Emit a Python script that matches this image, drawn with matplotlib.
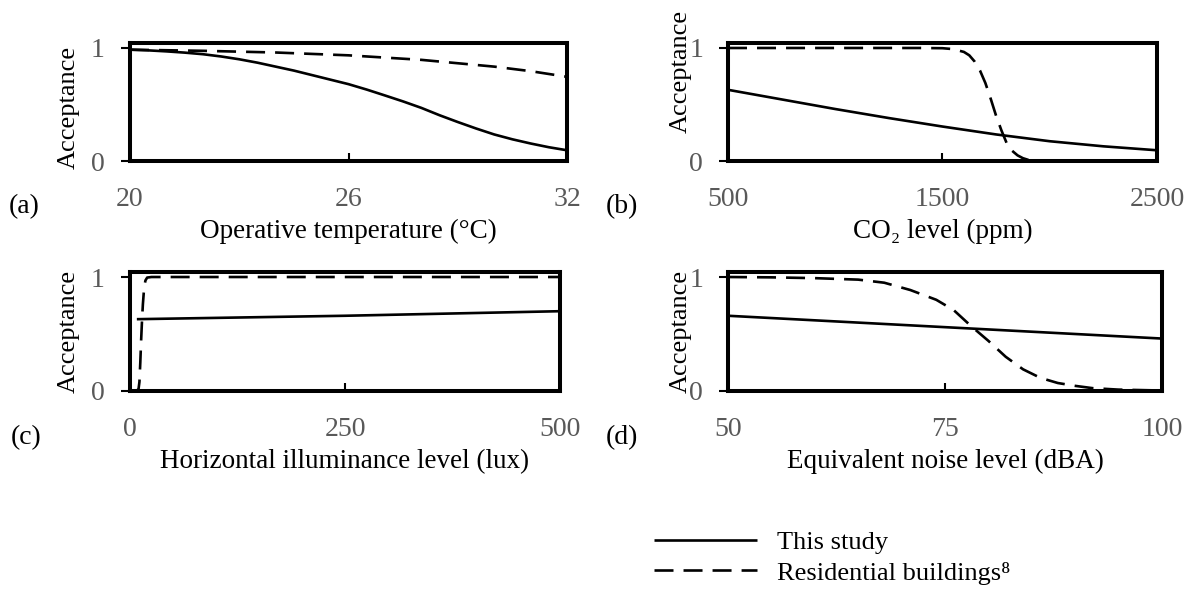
import matplotlib
matplotlib.use('Agg')
import matplotlib.pyplot as plt

plt.rcParams['font.family'] = ['Liberation Serif', 'DejaVu Serif']

# (a) Operative temperature
temp_x = [20, 20.5, 21, 21.5, 22, 22.5, 23, 23.5, 24, 24.5, 25, 25.5, 26, 26.5, 27, 27.5,
          28, 28.5, 29, 29.5, 30, 30.5, 31, 31.5, 32]
temp_this = [0.985, 0.979, 0.97, 0.959, 0.945, 0.925, 0.90, 0.87, 0.835, 0.80, 0.76, 0.72,
             0.68, 0.632, 0.58, 0.527, 0.47, 0.405, 0.345, 0.288, 0.235, 0.192, 0.155, 0.122,
             0.095]
temp_res_x = [20, 22, 24, 26, 28, 30, 31, 32]
temp_res = [0.985, 0.975, 0.96, 0.935, 0.895, 0.835, 0.795, 0.745]

# (b) CO2 level
co2_x = [500, 750, 1000, 1250, 1500, 1750, 2000, 2250, 2500]
co2_this = [0.63, 0.545, 0.46, 0.38, 0.305, 0.235, 0.175, 0.13, 0.095]
co2_res_x = [500, 1000, 1400, 1500, 1550, 1600, 1625, 1650, 1675, 1700, 1725, 1750, 1775,
             1800, 1825, 1850, 1875, 1900, 1950, 2500]
co2_res = [1.0, 1.0, 1.0, 0.998, 0.99, 0.965, 0.935, 0.88, 0.80, 0.69, 0.55, 0.40, 0.27,
           0.155, 0.09, 0.05, 0.025, 0.01, 0.0, 0.0]

# (c) Horizontal illuminance
lux_x = [8, 250, 500]
lux_this = [0.63, 0.66, 0.70]
lux_res_x = [0, 8, 10, 11, 12, 13, 14, 15, 16, 17, 18, 20, 25, 500]
lux_res = [0.0, 0.0, 0.02, 0.08, 0.25, 0.45, 0.62, 0.76, 0.86, 0.93, 0.97, 0.995, 1.0, 1.0]

# (d) Equivalent noise level
noise_x = [50, 75, 100]
noise_this = [0.66, 0.56, 0.46]
noise_res_x = [50, 55, 60, 65, 68, 71, 74, 76, 78, 80, 82, 84, 86, 88, 90, 92, 95, 100]
noise_res = [1.0, 0.997, 0.99, 0.977, 0.95, 0.886, 0.80, 0.71, 0.57, 0.44, 0.30, 0.19,
             0.115, 0.07, 0.045, 0.025, 0.012, 0.004]

panels = [
    dict(rect=[0.1095, 0.7271, 0.3682, 0.2], xs=temp_x, ys=temp_this, xr=temp_res_x, yr=temp_res,
         xlim=(20, 32), xticks=[20, 26, 32], xlabel='Operative temperature (°C)',
         ylab=(-0.114, 0.453), letter='(a)', lpos=(24, 207)),
    dict(rect=[0.6133, 0.7271, 0.3614, 0.2], xs=co2_x, ys=co2_this, xr=co2_res_x, yr=co2_res,
         xlim=(500, 2500), xticks=[500, 1500, 2500], xlabel='CO₂ level (ppm)',
         ylab=(-0.084, 0.763), letter='(b)', lpos=(622, 207)),
    dict(rect=[0.1095, 0.3373, 0.3623, 0.2017], xs=lux_x, ys=lux_this, xr=lux_res_x, yr=lux_res,
         xlim=(0, 500), xticks=[0, 250, 500], xlabel='Horizontal illuminance level (lux)',
         ylab=(-0.116, 0.5), letter='(c)', lpos=(26, 438)),
    dict(rect=[0.6133, 0.3373, 0.3656, 0.2017], xs=noise_x, ys=noise_this, xr=noise_res_x, yr=noise_res,
         xlim=(50, 100), xticks=[50, 75, 100], xlabel='Equivalent noise level (dBA)',
         ylab=(-0.083, 0.5), letter='(d)', lpos=(622, 438)),
]

W, H = 1187, 590
fig = plt.figure(figsize=(W / 100, H / 100), dpi=100)

dash = (0, (7.2, 3.8))
lw = 1.9
handles = None
for p in panels:
    ax = fig.add_axes(p['rect'])
    l1, = ax.plot(p['xs'], p['ys'], color='black', lw=lw, solid_capstyle='butt',
                  solid_joinstyle='round')
    l2, = ax.plot(p['xr'], p['yr'], color='black', lw=lw, linestyle=dash)
    if handles is None:
        handles = [l1, l2]
    ax.set_xlim(*p['xlim'])
    ax.set_ylim(0, 1.044)
    ax.set_xticks(p['xticks'])
    ax.set_xticklabels([str(t) for t in p['xticks']])
    ax.set_yticks([0, 1])
    ax.set_yticklabels(['0', '1'])
    for s in ax.spines.values():
        s.set_linewidth(2.9)
        s.set_color('black')
    ax.tick_params(axis='x', direction='in', length=6, width=1.5, pad=18.5,
                   labelsize=20, labelcolor='#595959', color='black')
    ax.tick_params(axis='y', direction='out', length=6.5, width=1.5, pad=11.5,
                   labelsize=20, labelcolor='#595959', color='black')
    ax.set_xlabel(p['xlabel'], fontsize=19.5, labelpad=5)
    ax.set_ylabel('Acceptance', fontsize=19)
    ax.yaxis.set_label_coords(*p['ylab'])
    fig.text(p['lpos'][0] / W, 1 - p['lpos'][1] / H, p['letter'], ha='center', va='center',
             fontsize=20)

fig.legend(handles, ['This study', 'Residential buildings⁸'], loc='upper left',
           bbox_to_anchor=(654 / W, 1 - 531 / H), frameon=False, fontsize=19,
           handlelength=3.9, handletextpad=0.76, labelspacing=0.25,
           borderpad=0, borderaxespad=0)

fig.savefig('out.png', dpi=100)
